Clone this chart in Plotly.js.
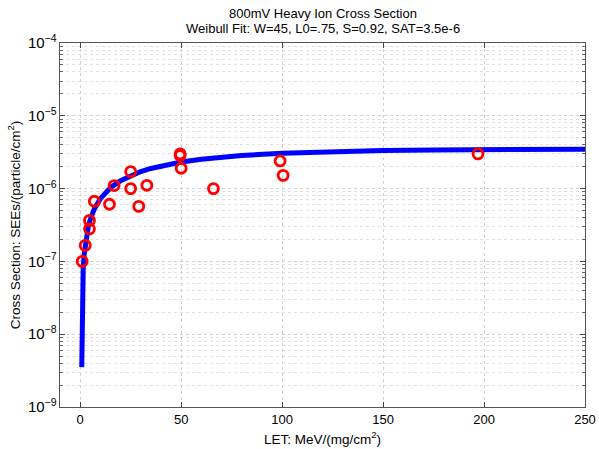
<!DOCTYPE html>
<html><head><meta charset="utf-8">
<script src="https://cdn.plot.ly/plotly-3.0.1.min.js"></script>
<style>html,body{margin:0;padding:0;background:#fff}#plot{width:599px;height:449px}</style>
</head><body><div id="plot"></div>
<script>
// Measured data points (LET, cross section)
var dataLET = [1, 2.5, 4.6, 4.6, 7, 14.5, 16.8, 25, 25, 29, 33, 49.5, 49.5, 50, 66, 99, 100.5, 197];
var dataSigma = [1.0e-7, 1.66e-7, 3.66e-7, 2.8e-7, 6.7e-7, 6.1e-7, 1.1e-6, 1.71e-6, 1.0e-6, 5.7e-7, 1.11e-6, 3.0e-6, 2.85e-6, 1.9e-6, 1.0e-6, 2.4e-6, 1.52e-6, 3.0e-6];
// Weibull fit curve samples (W=45, L0=.75, S=0.92, SAT=3.5e-6)
var fitLET = [0.775, 0.8, 0.9, 1, 1.25, 1.5, 2, 3, 4, 5, 7, 10, 15, 20, 25, 30, 35, 40, 50, 60, 70, 80, 100, 125, 150, 175, 200, 225, 250];
var fitSigma = [3.53e-9, 6.69e-9, 1.836e-8, 2.93e-8, 5.53e-8, 8.0e-8, 1.272e-7, 2.155e-7, 2.98e-7, 3.77e-7, 5.26e-7, 7.28e-7, 1.027e-6, 1.286e-6, 1.513e-6, 1.714e-6, 1.892e-6, 2.051e-6, 2.319e-6, 2.535e-6, 2.709e-6, 2.850e-6, 3.058e-6, 3.226e-6, 3.328e-6, 3.392e-6, 3.431e-6, 3.456e-6, 3.472e-6];
var xTicks = [0, 50, 100, 150, 200, 250];
var titleLines = ['800mV Heavy Ion Cross Section', 'Weibull Fit: W=45, L0=.75, S=0.92, SAT=3.5e-6'];

var font = 'Liberation Sans, Arial, sans-serif';
var traces = [
  {x: fitLET, y: fitSigma, mode: 'lines', line: {color: '#0000ff', width: 5}, hoverinfo: 'skip', showlegend: false},
  {x: dataLET, y: dataSigma, mode: 'markers', marker: {symbol: 'circle-open', size: 10, color: '#ff0000', line: {width: 2.8, color: '#ff0000'}}, showlegend: false}
];
var layout = {
  width: 599, height: 449,
  margin: {l: 60, r: 14, t: 43, b: 42},
  paper_bgcolor: '#fff', plot_bgcolor: '#fff',
  font: {family: font, size: 13, color: '#000'},
  annotations: [
    {text: titleLines[0], xref: 'paper', yref: 'paper', x: 0.5, y: 1, yshift: 30, xanchor: 'center', yanchor: 'middle', showarrow: false, font: {family: font, size: 13, color: '#000'}},
    {text: titleLines[1], xref: 'paper', yref: 'paper', x: 0.5, y: 1, yshift: 15, xanchor: 'center', yanchor: 'middle', showarrow: false, font: {family: font, size: 13, color: '#000'}}
  ],
  xaxis: {
    range: [-10, 250], tickvals: xTicks, ticktext: xTicks.map(String),
    ticks: 'inside', ticklen: 5, tickcolor: '#444', mirror: 'allticks',
    showline: true, linecolor: '#555', linewidth: 1,
    showgrid: true, gridcolor: '#d0d0d0', griddash: 'dot', gridwidth: 1, zeroline: false,
    title: {text: 'LET: MeV/(mg/cm<sup>2</sup>)', font: {family: font, size: 13.5}, standoff: 8},
    tickfont: {family: font, size: 13}
  },
  yaxis: {
    type: 'log', range: [-9, -4], dtick: 1, exponentformat: 'power',
    ticks: 'inside', ticklen: 5, tickcolor: '#444', mirror: 'allticks',
    showline: true, linecolor: '#555', linewidth: 1,
    showgrid: true, gridcolor: '#d0d0d0', griddash: 'dot', gridwidth: 1, zeroline: false,
    minor: {dtick: 'D1', ticks: 'inside', ticklen: 3, tickcolor: '#666', showgrid: true, gridcolor: '#e0e0e0', griddash: 'dot'},
    title: {text: 'Cross Section: SEEs/(particle/cm<sup>2</sup>)', font: {family: font, size: 13.5}, standoff: 4},
    tickfont: {family: font, size: 12}
  }
};
Plotly.newPlot('plot', traces, layout, {staticPlot: true, displayModeBar: false});
</script></body></html>
